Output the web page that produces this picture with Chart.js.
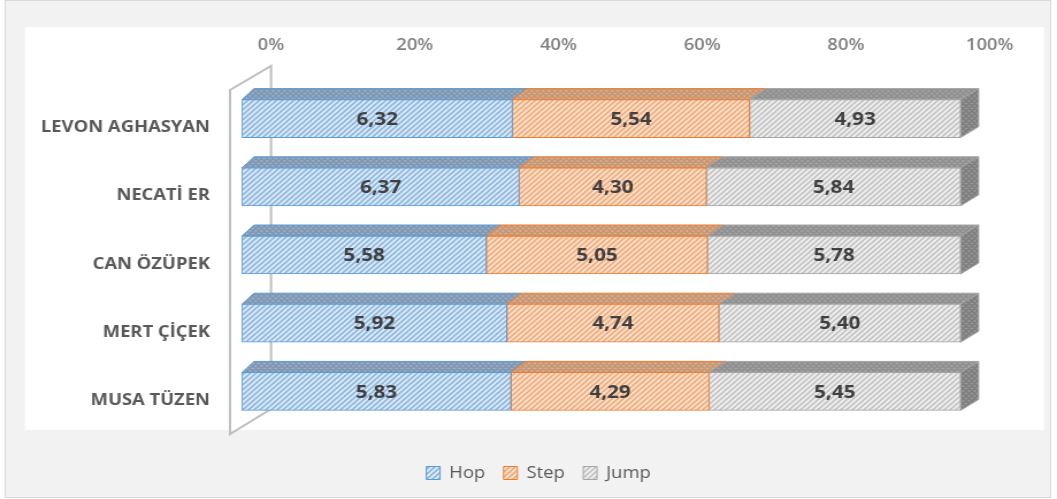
<!DOCTYPE html>
<html>
<head>
<meta charset="utf-8">
<script src="https://cdn.jsdelivr.net/npm/chart.js@4.4.1/dist/chart.umd.min.js"></script>
<style>
  html, body { margin: 0; padding: 0; background: #fff; }
  #wrap { width: 919px; height: 499px; transform: scaleX(1.1502); transform-origin: 0 0; }
</style>
</head>
<body>
<div id="wrap"><canvas id="chart" width="919" height="499"></canvas></div>
<script>
const athletes = ['LEVON AGHASYAN', 'NECATİ ER', 'CAN ÖZÜPEK', 'MERT ÇİÇEK', 'MUSA TÜZEN'];
const hop  = [6.32, 6.37, 5.58, 5.92, 5.83];
const step = [5.54, 4.30, 5.05, 4.74, 4.29];
const jump = [4.93, 5.84, 5.78, 5.40, 5.45];
const seriesNames = ['Hop', 'Step', 'Jump'];
const pctTicks = [0, 20, 40, 60, 80, 100];

// share of each athlete's total, for the 100% stack
const totals = athletes.map((_, i) => hop[i] + step[i] + jump[i]);
const toPct = arr => arr.map((v, i) => v / totals[i] * 100);

// 3d look
const SHIFT_X = -25.2, SHIFT_Y = -9;   // front faces sit in front of the axis plane
const DEPTH_Y = 11;
const depthX = (x, area) => 10.4 + 5.3 * (x - area.left) / (area.right - area.left);

function hatch(bg, fg, cross) {
  const size = 5;
  const c = document.createElement('canvas');
  c.width = c.height = size;
  const g = c.getContext('2d');
  g.fillStyle = bg;
  g.fillRect(0, 0, size, size);
  g.strokeStyle = fg;
  g.lineWidth = 1.6;
  g.beginPath();
  g.moveTo(0, size); g.lineTo(size, 0);
  g.moveTo(-1, 1); g.lineTo(1, -1);
  g.moveTo(size - 1, size + 1); g.lineTo(size + 1, size - 1);
  if (cross) {
    g.moveTo(0, 0); g.lineTo(size, size);
    g.moveTo(size - 1, -1); g.lineTo(size + 1, 1);
    g.moveTo(-1, size - 1); g.lineTo(1, size + 1);
  }
  g.stroke();
  return g.createPattern(c, 'repeat');
}

const frontFill = [hatch('#e2edf9', '#88b4e0'), hatch('#fde6d6', '#f2a874'), hatch('#f2f2f2', '#c2c2c2')];
const topFill   = [hatch('#9fb4cc', '#7f96b1', true), hatch('#deb293', '#c69673', true), hatch('#a8a8a8', '#8f8f8f', true)];
const edgeColor = ['#5b9bd5', '#ed7d31', '#a5a5a5'];
const sideFill  = hatch('#9c9c9c', '#7e7e7e', true);

const seriesValues = [hop, step, jump];

const frame = {
  id: 'frame',
  beforeDraw(chart) {
    const ctx = chart.ctx;
    ctx.save();
    ctx.fillStyle = '#ffffff';
    ctx.fillRect(0, 0, chart.width, chart.height);
    ctx.fillStyle = '#f2f2f2';
    ctx.fillRect(4.5, 0.5, 909, 497);
    ctx.strokeStyle = '#d9d9d9';
    ctx.lineWidth = 1;
    ctx.strokeRect(4.5, 0.5, 909, 497);
    ctx.fillStyle = '#ffffff';
    ctx.fillRect(21.7, 27, 886, 403);
    ctx.restore();
  }
};

const bars3d = {
  id: 'bars3d',
  beforeDatasetsDraw(chart) {
    const ctx = chart.ctx, area = chart.chartArea;
    // side wall
    ctx.save();
    ctx.strokeStyle = '#bfbfbf';
    ctx.lineWidth = 2;
    ctx.beginPath();
    ctx.moveTo(area.left - 35.6, area.top - 3.5);
    ctx.lineTo(area.left, area.top - 27.5);
    ctx.lineTo(area.left, area.bottom - 25.5);
    ctx.lineTo(area.left - 35.6, area.bottom - 0.5);
    ctx.closePath();
    ctx.stroke();

    ctx.translate(SHIFT_X, SHIFT_Y);
    const metas = chart.data.datasets.map((_, d) => chart.getDatasetMeta(d));
    metas.forEach((meta, d) => {
      meta.data.forEach(bar => {
        const p = bar.getProps(['x', 'y', 'base', 'height'], true);
        const top = p.y - p.height / 2, bottom = p.y + p.height / 2;
        const x0 = p.base, x1 = p.x;
        const d0 = depthX(x0, area), d1 = depthX(x1, area);
        ctx.beginPath();
        ctx.moveTo(x0, top);
        ctx.lineTo(x1, top);
        ctx.lineTo(x1 + d1, top - DEPTH_Y);
        ctx.lineTo(x0 + d0, top - DEPTH_Y);
        ctx.closePath();
        ctx.fillStyle = topFill[d];
        ctx.fill();
        ctx.strokeStyle = edgeColor[d];
        ctx.lineWidth = 1;
        ctx.stroke();
        if (d === metas.length - 1) {
          ctx.beginPath();
          ctx.moveTo(x1, top);
          ctx.lineTo(x1 + d1, top - DEPTH_Y);
          ctx.lineTo(x1 + d1, bottom - DEPTH_Y);
          ctx.lineTo(x1, bottom);
          ctx.closePath();
          ctx.fillStyle = sideFill;
          ctx.fill();
          ctx.strokeStyle = '#a5a5a5';
          ctx.stroke();
        }
      });
    });
  },
  afterDatasetsDraw(chart) {
    const ctx = chart.ctx;
    ctx.font = 'bold 18px "Open Sans"';
    ctx.fillStyle = '#404040';
    ctx.textAlign = 'center';
    ctx.textBaseline = 'middle';
    chart.data.datasets.forEach((ds, d) => {
      chart.getDatasetMeta(d).data.forEach((bar, i) => {
        const p = bar.getProps(['x', 'y', 'base'], true);
        const label = seriesValues[d][i].toFixed(2).replace('.', ',');
        ctx.fillText(label, (p.x + p.base) / 2, p.y + 1);
      });
    });
    ctx.restore();
  }
};

const hiddenAxis = size => ({
  type: 'linear',
  ticks: { display: false },
  grid: { display: false, drawTicks: false },
  border: { display: false },
  afterFit: s => { if (s.isHorizontal()) s.height = size; else s.width = size; }
});

new Chart(document.getElementById('chart'), {
  type: 'bar',
  data: {
    labels: athletes,
    datasets: seriesValues.map((vals, d) => ({
      label: seriesNames[d],
      data: toPct(vals),
      xAxisID: 'x',
      yAxisID: 'y',
      backgroundColor: frontFill[d],
      borderColor: edgeColor[d],
      borderWidth: 1,
      borderSkipped: false,
      barThickness: 38,
      clip: false
    }))
  },
  options: {
    indexAxis: 'y',
    responsive: false,
    animation: false,
    events: [],
    layout: { padding: { left: 17.4, right: 0, top: 0, bottom: 8 } },
    scales: {
      x: {
        stacked: true,
        position: 'top',
        min: 0,
        max: 100,
        afterBuildTicks: s => { s.ticks = pctTicks.map(v => ({ value: v })); },
        ticks: {
          callback: v => v + '%',
          font: { family: 'Open Sans', size: 16, weight: '600' },
          color: '#808080',
          padding: 38
        },
        grid: { display: false, drawTicks: false },
        border: { display: false },
        afterFit: s => { s.height = 93.5; }
      },
      y: {
        stacked: true,
        ticks: {
          font: { family: 'Open Sans', size: 16, weight: 'bold' },
          color: '#595959',
          padding: 53
        },
        grid: { display: false, drawTicks: false },
        border: { display: false },
        afterFit: s => { s.width = 218.2; }
      },
      xb: Object.assign(hiddenAxis(14.5), { position: 'bottom' }),
      yr: Object.assign(hiddenAxis(57.4), { position: 'right' })
    },
    plugins: {
      legend: {
        position: 'bottom',
        labels: {
          font: { family: 'Open Sans', size: 16 },
          color: '#595959',
          boxWidth: 12,
          boxHeight: 13,
          padding: 16
        }
      },
      tooltip: { enabled: false }
    }
  },
  plugins: [frame, bars3d]
});
</script>
</body>
</html>
